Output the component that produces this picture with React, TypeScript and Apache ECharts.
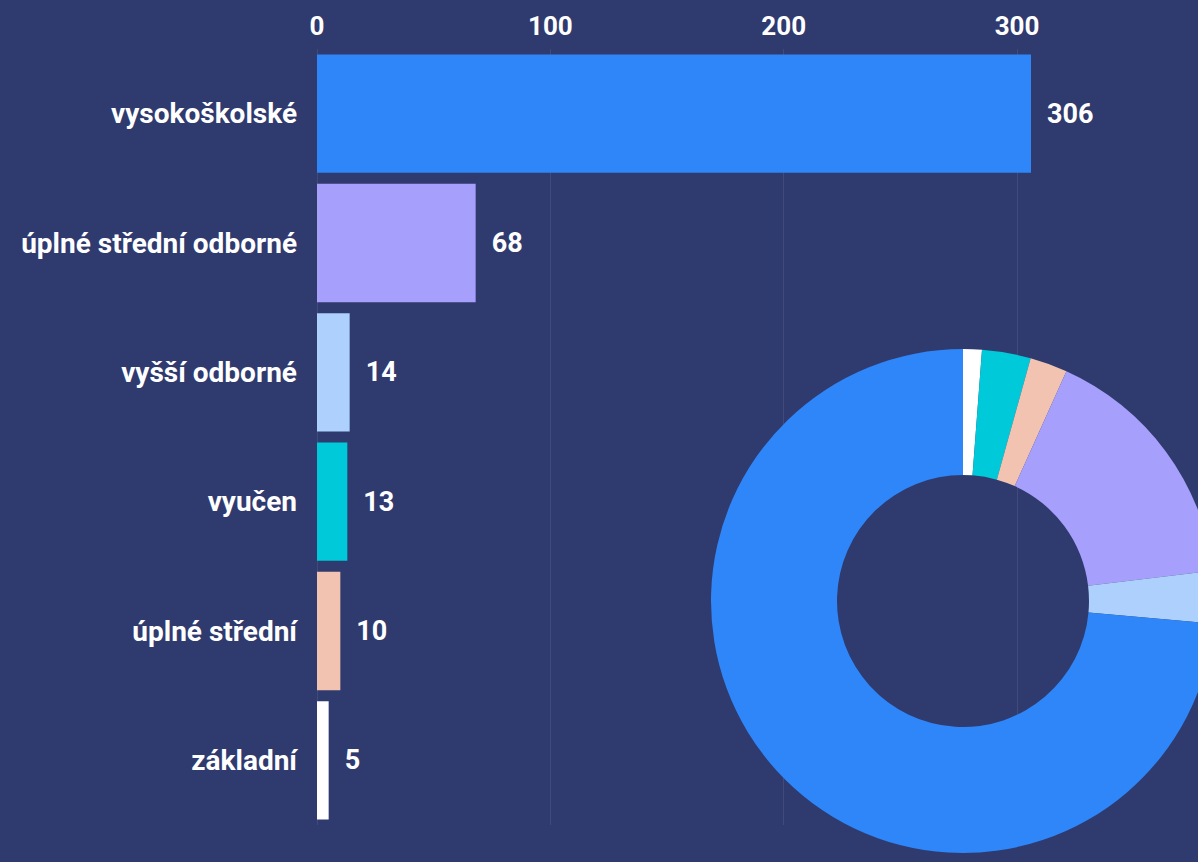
import React, { useEffect, useRef } from "react";
import * as echarts from "echarts";

const categories = [
  "vysokoškolské",
  "úplné střední odborné",
  "vyšší odborné",
  "vyučen",
  "úplné střední",
  "základní",
];
const values = [306, 68, 14, 13, 10, 5];
const colors = ["#2e86f8", "#a79ffc", "#add1fc", "#00c9d9", "#f2c3b0", "#ffffff"];
const xTicks = [0, 100, 200, 300];
// donut order (clockwise from top)
const pieOrder = [5, 3, 4, 1, 2, 0];

const BG = "#2f3a6e";
const FONT = "Roboto, 'Noto Sans', sans-serif";

export default function App() {
  const ref = useRef<HTMLDivElement>(null);
  useEffect(() => {
    if (!ref.current) return;
    const chart = echarts.init(ref.current, undefined, { renderer: "svg" });
    chart.setOption({
      animation: false,
      backgroundColor: BG,
      textStyle: { fontFamily: FONT },
      grid: { left: 317, right: 181, top: 49, bottom: 37, containLabel: false },
      xAxis: {
        type: "value",
        position: "top",
        min: xTicks[0],
        max: xTicks[xTicks.length - 1],
        interval: 100,
        axisLine: { show: false },
        axisTick: { show: false },
        axisLabel: {
          color: "#ffffff",
          fontSize: 26,
          fontWeight: 700,
          fontFamily: FONT,
          margin: 10,
        },
        splitLine: { show: true, lineStyle: { color: "rgba(255,255,255,0.09)", width: 1 } },
      },
      yAxis: {
        type: "category",
        inverse: true,
        data: categories,
        axisLine: { show: false },
        axisTick: { show: false },
        axisLabel: {
          color: "#ffffff",
          fontSize: 28,
          fontWeight: 700,
          fontFamily: FONT,
          margin: 20,
        },
      },
      series: [
        {
          type: "bar",
          clip: false,
          barCategoryGap: "8.5%",
          data: values.map((v, i) => ({ value: v, itemStyle: { color: colors[i] } })),
          label: {
            show: true,
            position: "right",
            distance: 16,
            color: "#ffffff",
            fontSize: 27,
            fontWeight: 700,
            fontFamily: FONT,
          },
          emphasis: { disabled: true },
        },
        {
          type: "pie",
          center: [963, 601],
          radius: [126, 252],
          startAngle: 90,
          clockwise: true,
          label: { show: false },
          labelLine: { show: false },
          emphasis: { disabled: true },
          itemStyle: { borderWidth: 0 },
          data: pieOrder.map((i) => ({
            name: categories[i],
            value: values[i],
            itemStyle: { color: colors[i] },
          })),
        },
      ],
    });
    return () => chart.dispose();
  }, []);
  return (
    <div
      ref={ref}
      style={{ position: "fixed", left: 0, top: 0, width: 1198, height: 862 }}
    />
  );
}
